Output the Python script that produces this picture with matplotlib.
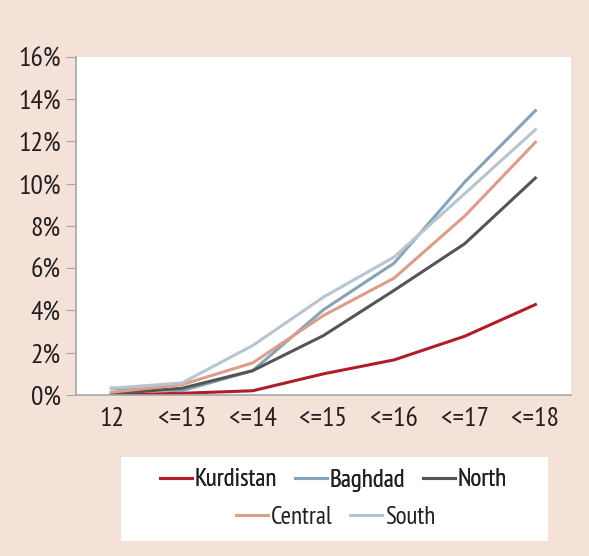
import matplotlib.pyplot as plt
from matplotlib.patches import Rectangle
from matplotlib.ticker import FuncFormatter

plt.rcParams['font.family'] = ['PT Sans Narrow', 'Fira Sans Condensed', 'Roboto Condensed',
                               'Archivo Narrow', 'DejaVu Sans']

categories = ['12', '<=13', '<=14', '<=15', '<=16', '<=17', '<=18']
kurdistan = [0.0, 0.08, 0.2, 1.0, 1.66, 2.78, 4.28]
baghdad = [0.32, 0.2, 1.15, 4.03, 6.24, 10.08, 13.46]
north = [0.05, 0.32, 1.15, 2.81, 4.95, 7.16, 10.27]
central = [0.13, 0.49, 1.52, 3.76, 5.53, 8.47, 11.96]
south = [0.32, 0.57, 2.34, 4.63, 6.53, 9.53, 12.56]

bg = '#f4e1d8'
txt = '#231f20'
fig = plt.figure(figsize=(5.89, 5.56), dpi=100, facecolor=bg)
ax = fig.add_axes([0.129, 0.2896, 0.840, 0.608])
ax.set_facecolor('white')

x = range(len(categories))
lines = []
for vals, name, col in [(kurdistan, 'Kurdistan', '#b01c2a'),
                        (baghdad, 'Baghdad', '#87a2b6'),
                        (north, 'North', '#555555'),
                        (central, 'Central', '#dc9e88'),
                        (south, 'South', '#b8c5d0')]:
    l, = ax.plot(x, vals, color=col, lw=2.2, label=name)
    lines.append(l)

ax.set_xlim(-0.5, 6.5)
ax.set_ylim(0, 16)
ax.set_yticks(range(0, 17, 2))
ax.yaxis.set_major_formatter(FuncFormatter(lambda v, p: f'{int(v)}%'))
ax.set_xticks(list(x))
ax.set_xticklabels(categories)
ax.tick_params(axis='both', labelsize=20, colors=txt, length=0, pad=9)
ax.tick_params(axis='y', length=7, color='#a6a6a6', direction='out', pad=4)
for s in ['top', 'right']:
    ax.spines[s].set_visible(False)
for s in ['left', 'bottom']:
    ax.spines[s].set_color('#a6a6a6')
    ax.spines[s].set_linewidth(1.2)

# legend box
fig.patches.append(Rectangle((121 / 589, 1 - 541 / 556), 427 / 589, 84 / 556,
                             transform=fig.transFigure, facecolor='white',
                             edgecolor='none', zorder=0))
leg1 = fig.legend(handles=lines[:3], loc='center', bbox_to_anchor=(0.566, 1 - 480 / 556),
                  ncol=3, frameon=False, fontsize=18, handlelength=1.28,
                  handletextpad=0.12, columnspacing=0.7)
leg2 = fig.legend(handles=lines[3:], loc='center', bbox_to_anchor=(0.570, 1 - 517 / 556),
                  ncol=2, frameon=False, fontsize=18, handlelength=1.28,
                  handletextpad=0.12, columnspacing=0.7)
for lg in (leg1, leg2):
    for t in lg.get_texts():
        t.set_color(txt)
fig.add_artist(leg1)

fig.savefig('out.png', dpi=100, facecolor=bg)
